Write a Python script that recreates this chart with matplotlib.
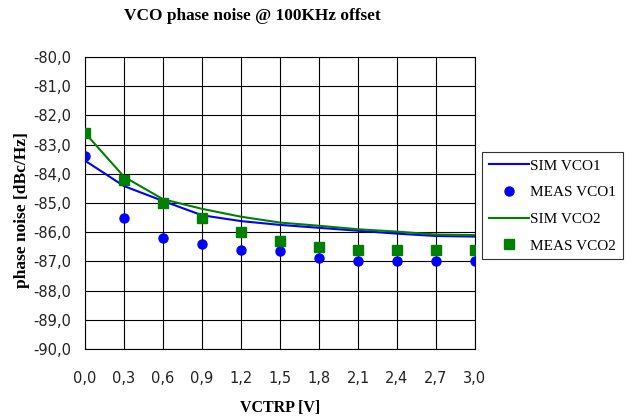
import matplotlib
matplotlib.use("Agg")
import matplotlib.pyplot as plt
from matplotlib.ticker import FuncFormatter

vctrp = [0.0, 0.3, 0.6, 0.9, 1.2, 1.5, 1.8, 2.1, 2.4, 2.7, 3.0]
sim_vco1 = [-83.55, -84.42, -84.93, -85.42, -85.62, -85.75, -85.85, -85.95, -86.05, -86.13, -86.15]
meas_vco1 = [-83.4, -85.5, -86.2, -86.4, -86.6, -86.65, -86.9, -87.0, -87.0, -87.0, -87.0]
sim_vco2 = [-82.6, -84.1, -84.87, -85.2, -85.47, -85.67, -85.78, -85.9, -85.98, -86.08, -86.1]
meas_vco2 = [-82.6, -84.2, -85.0, -85.5, -86.0, -86.3, -86.5, -86.6, -86.6, -86.6, -86.6]

serif = "Liberation Serif"
sans = "DejaVu Sans"

fig = plt.figure(figsize=(6.3, 4.2), dpi=100)
ax = fig.add_axes([85 / 630, 1 - 349 / 420, 390 / 630, 292 / 420])

ax.plot(vctrp, sim_vco1, color="#0000ff", lw=1.5, label="SIM VCO1", zorder=3)
ax.plot(vctrp, meas_vco1, ls="none", marker="o", ms=6.5, color="#0000ff",
        label="MEAS VCO1", zorder=4)
ax.plot(vctrp, sim_vco2, color="#008000", lw=1.5, label="SIM VCO2", zorder=3)
ax.plot(vctrp, meas_vco2, ls="none", marker="s", ms=7, color="#008000",
        label="MEAS VCO2", zorder=4)

ax.set_xlim(0, 3.0)
ax.set_ylim(-90, -80)
ax.set_xticks(vctrp)
ax.set_yticks(range(-90, -79))
fmt = FuncFormatter(lambda v, p: f"{v:.1f}".replace(".", ","))
ax.xaxis.set_major_formatter(fmt)
ax.yaxis.set_major_formatter(fmt)
ax.tick_params(length=0, labelsize=10.5, colors="#222222")
ax.tick_params(axis="x", pad=16)
ax.tick_params(axis="y", pad=10)
for lab in ax.get_xticklabels() + ax.get_yticklabels():
    lab.set_fontfamily(sans)
ax.grid(True, color="black", lw=0.8)
ax.set_axisbelow(True)
for s in ax.spines.values():
    s.set_color("black")
    s.set_linewidth(0.8)

fig.text(252 / 630, 1 - 16 / 420, "VCO phase noise @ 100KHz offset",
         ha="center", va="center", fontfamily=serif, fontweight="bold", fontsize=12.4)
fig.text(280 / 630, 1 - 408 / 420, "VCTRP [V]", ha="center", va="center",
         fontfamily=serif, fontweight="bold", fontsize=11.5)
fig.text(22 / 630, 1 - 210 / 420, "phase noise [dBc/Hz]", ha="center", va="center",
         rotation=90, fontfamily=serif, fontweight="bold", fontsize=12.5)

leg = fig.legend(loc="upper left", bbox_to_anchor=(482 / 630, 1 - 152 / 420),
                 borderaxespad=0, frameon=True, fancybox=False, handlelength=2.6,
                 handletextpad=0.1, labelspacing=0.85, borderpad=0.45,
                 prop={"family": serif, "size": 11})
leg.get_frame().set_edgecolor("black")
leg.get_frame().set_linewidth(0.8)

fig.savefig("out.png", dpi=100)
